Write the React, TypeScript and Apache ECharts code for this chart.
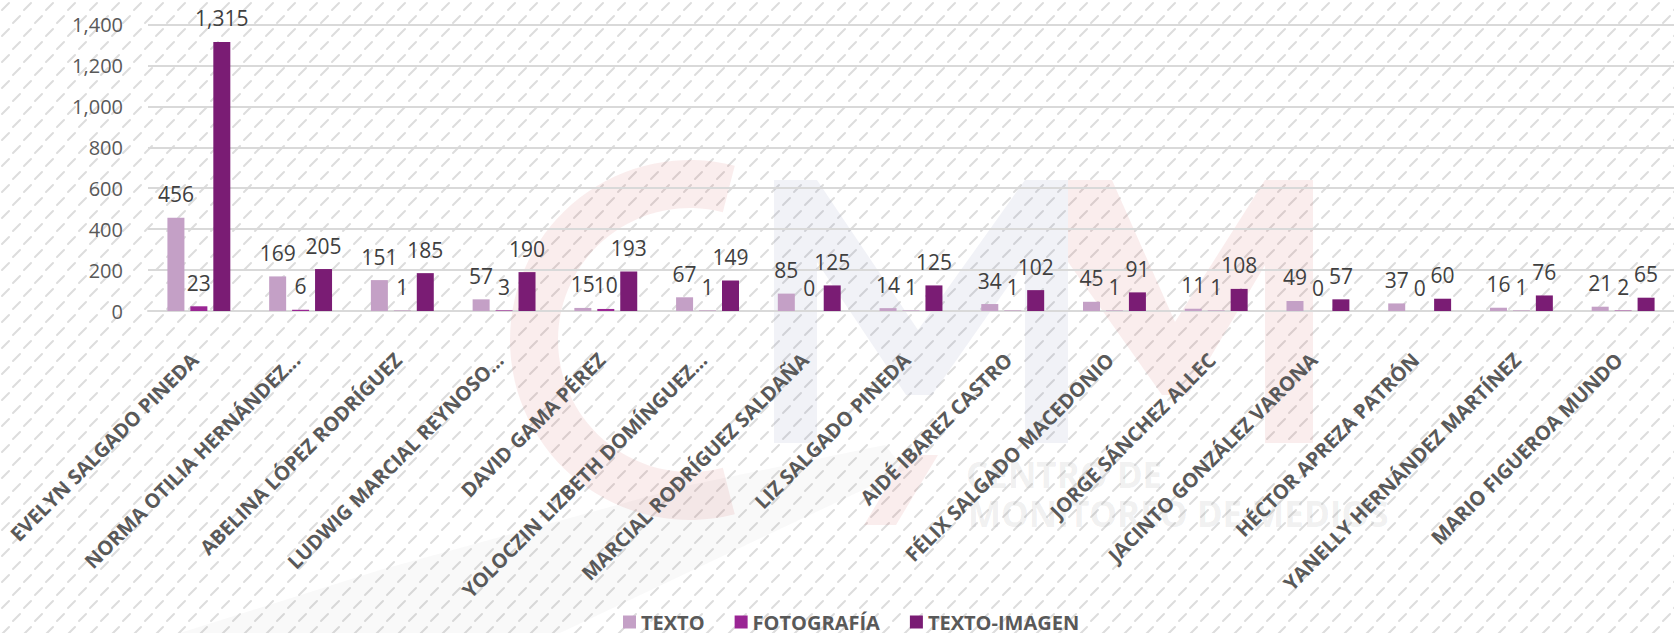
import React, { useEffect, useRef } from "react";
import * as echarts from "echarts";

const categories = [
  "EVELYN SALGADO PINEDA",
  "NORMA OTILIA HERNÁNDEZ...",
  "ABELINA LÓPEZ RODRÍGUEZ",
  "LUDWIG MARCIAL REYNOSO...",
  "DAVID GAMA PÉREZ",
  "YOLOCZIN LIZBETH DOMÍNGUEZ...",
  "MARCIAL RODRÍGUEZ SALDAÑA",
  "LIZ SALGADO PINEDA",
  "AIDÉ IBAREZ CASTRO",
  "FÉLIX SALGADO MACEDONIO",
  "JORGE SÁNCHEZ ALLEC",
  "JACINTO GONZÁLEZ VARONA",
  "HÉCTOR APREZA PATRÓN",
  "YANELLY HERNÁNDEZ MARTÍNEZ",
  "MARIO FIGUEROA MUNDO",
];

const texto = [456, 169, 151, 57, 15, 67, 85, 14, 34, 45, 11, 49, 37, 16, 21];
const fotografia = [23, 6, 1, 3, 10, 1, 0, 1, 1, 1, 1, 0, 0, 1, 2];
const textoImagen = [1315, 205, 185, 190, 193, 149, 125, 125, 102, 91, 108, 57, 60, 76, 65];

const seriesNames = ["TEXTO", "FOTOGRAFÍA", "TEXTO-IMAGEN"];
const seriesColors = ["#C4A0C6", "#9A2594", "#7A1C74"];

const yMin = 0;
const yMax = 1400;
const yInterval = 200;

const FONT = "'Open Sans', 'Noto Sans', sans-serif";

const hatchSvg =
  "<svg xmlns='http://www.w3.org/2000/svg' width='22' height='26'>" +
  "<g stroke='%23dddddd' stroke-width='2' stroke-linecap='round'>" +
  "<line x1='2' y1='10' x2='9' y2='3'/>" +
  "<line x1='13' y1='23' x2='20' y2='16'/>" +
  "</g></svg>";

const fmt = (v: number) => v.toLocaleString("en-US");

const PINK = "rgba(205,60,60,0.09)";
const BLUE = "rgba(80,95,150,0.08)";
const GRAYTXT = "rgba(110,110,110,0.11)";

function buildOption() {
  const data = [texto, fotografia, textoImagen];
  return {
    animation: false,
    backgroundColor: "transparent",
    textStyle: { fontFamily: FONT },
    grid: { left: 148, right: 0, top: 24.5, bottom: 322, containLabel: false },
    legend: {
      left: 618,
      top: 607,
      itemWidth: 13,
      itemHeight: 13,
      itemGap: 30,
      icon: "rect",
      textStyle: { fontFamily: FONT, fontSize: 20, lineHeight: 20, fontWeight: "bold", color: "#595959" },
      data: seriesNames,
    },
    xAxis: {
      type: "category",
      data: categories,
      axisLine: { show: true, lineStyle: { color: "#D9D9D9", width: 2 } },
      axisTick: { show: false },
      axisLabel: {
        interval: 0,
        rotate: 45,
        margin: 27,
        verticalAlign: "top",
        padding: [0, 16, 0, 0],
        fontFamily: FONT,
        fontSize: 20,
        fontWeight: "bold",
        color: "#595959",
      },
    },
    yAxis: {
      type: "value",
      min: yMin,
      max: yMax,
      interval: yInterval,
      axisLine: { show: false },
      axisTick: { show: false },
      splitLine: { lineStyle: { color: "#D9D9D9", width: 2 } },
      axisLabel: {
        margin: 25,
        fontFamily: FONT,
        fontSize: 20,
        color: "#595959",
        formatter: (v: number) => fmt(v),
      },
    },
    graphic: [
      {
        type: "polygon",
        z: -10,
        silent: true,
        shape: { points: [[180, 633], [560, 633], [905, 470], [885, 445], [690, 485], [380, 570]] },
        style: { fill: "rgba(110,110,110,0.04)" },
      },
      {
        type: "sector",
        z: -10,
        silent: true,
        shape: { cx: 690, cy: 340, r: 180, r0: 132, startAngle: Math.PI * 0.42, endAngle: Math.PI * 1.58, clockwise: true },
        style: { fill: PINK },
      },
      {
        type: "polygon",
        z: -10,
        silent: true,
        shape: {
          points: [
            [774, 180], [817, 180], [918, 330], [1025, 180], [1068, 180], [1068, 443], [1025, 443],
            [1025, 262], [932, 395], [906, 395], [817, 262], [817, 443], [774, 443],
          ],
        },
        style: { fill: BLUE },
      },
      {
        type: "polygon",
        z: -10,
        silent: true,
        shape: {
          points: [
            [1068, 180], [1112, 180], [1175, 322], [1265, 180], [1313, 180], [1313, 443], [1265, 443],
            [1265, 265], [1188, 395], [1162, 395], [1068, 262],
          ],
        },
        style: { fill: PINK },
      },
      {
        type: "polygon",
        z: -10,
        silent: true,
        shape: { points: [[906, 455], [938, 455], [896, 525], [864, 525]] },
        style: { fill: PINK },
      },
      {
        type: "text",
        z: -10,
        silent: true,
        style: { text: "CENTRO DE", x: 966, y: 492, fontFamily: FONT, fontSize: 35, fontWeight: "bold", fill: GRAYTXT, textVerticalAlign: "bottom" },
      },
      {
        type: "text",
        z: -10,
        silent: true,
        style: { text: "MONITOREO DE MEDIOS", x: 968, y: 531, fontFamily: FONT, fontSize: 35, fontWeight: "bold", fill: GRAYTXT, textVerticalAlign: "bottom" },
      },
    ],
    series: seriesNames.map((name, i) => ({
      name,
      type: "bar",
      data: data[i],
      barWidth: 17,
      barGap: "35%",
      itemStyle: { color: seriesColors[i] },
      label: {
        show: true,
        position: "top",
        distance: 13,
        fontFamily: FONT,
        fontSize: 21,
        color: "#404040",
        formatter: (p: any) => fmt(p.value),
      },
    })),
  };
}

export default function App() {
  const ref = useRef<HTMLDivElement>(null);
  useEffect(() => {
    if (!ref.current) return;
    const chart = echarts.init(ref.current, null, { renderer: "svg" });
    chart.setOption(buildOption() as any);
    return () => chart.dispose();
  }, []);
  return (
    <div
      style={{
        position: "fixed",
        left: 0,
        top: 0,
        width: 1674,
        height: 633,
        backgroundColor: "#ffffff",
        backgroundImage: `url("data:image/svg+xml;utf8,${hatchSvg}")`,
      }}
    >
      <div ref={ref} style={{ width: 1674, height: 633 }} />
    </div>
  );
}
